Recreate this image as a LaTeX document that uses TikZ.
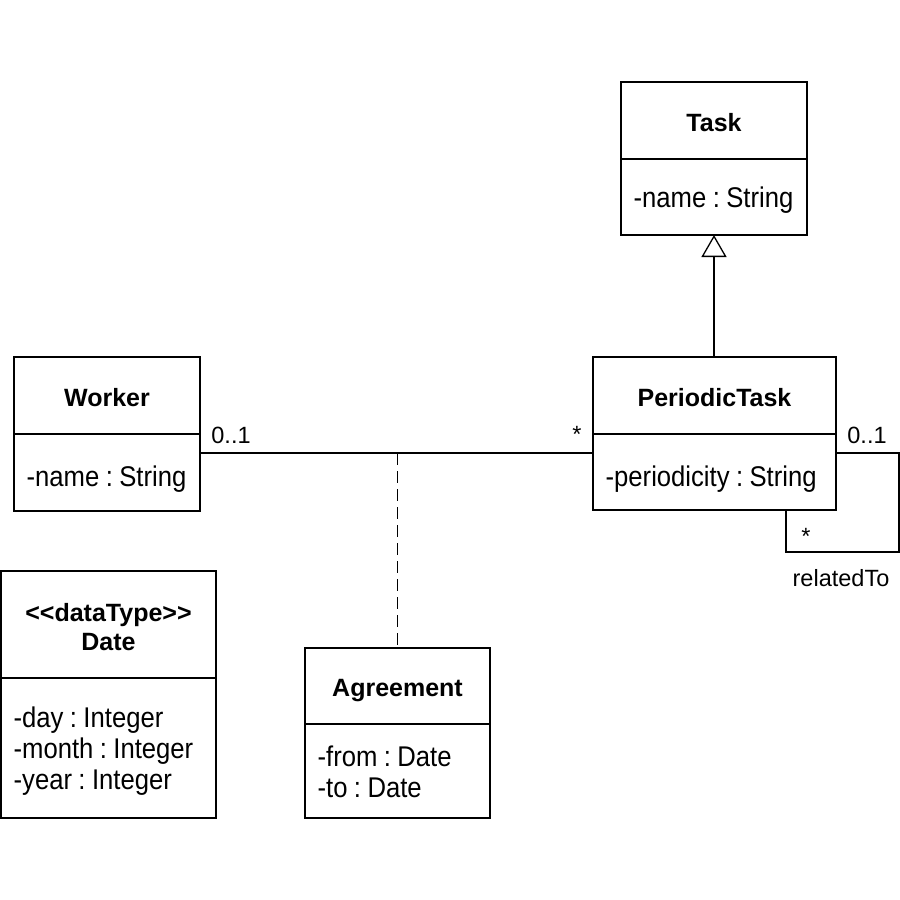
\documentclass[tikz,border=0pt]{standalone}
\usepackage{fontspec}
\setmainfont{Liberation Sans}
\newfontfamily\attrfont{Liberation Sans}[FakeStretch=0.9,WordSpace=0.9]
\usetikzlibrary{arrows.meta}
\begin{document}
\frenchspacing
\begin{tikzpicture}[x=1pt,y=-1pt,line width=1.3pt,
  box/.style={draw,outer sep=0pt,inner sep=0pt},
  titletext/.style={inner sep=0pt,anchor=base,align=center,font=\fontsize{25}{29}\selectfont\bfseries},
  attrtext/.style={inner sep=0pt,anchor=base west,align=left,font=\attrfont\fontsize{28.5}{31}\selectfont},
  lbl/.style={inner sep=0pt,anchor=base,font=\fontsize{23.5}{28}\selectfont}]
\useasboundingbox (0,0) rectangle (900,900);
% Task
\node[box,minimum width=186pt,minimum height=77pt] (tt) at (714,120.5) {};
\node[box,minimum width=186pt,minimum height=76pt] (ta) at (714,197) {};
\node[titletext] (ttx) at (714,131) {Task};
\node[attrtext] (tax) at (633,207) {-name : String};
% PeriodicTask
\node[box,minimum width=243pt,minimum height=77pt] (pt) at (714.5,395.5) {};
\node[box,minimum width=243pt,minimum height=76pt] (pa) at (714.5,472) {};
\node[titletext] (ptx) at (714.5,406) {PeriodicTask};
\node[attrtext] (pax) at (605,486.5) {-periodicity : String};
% Worker
\node[box,minimum width=186pt,minimum height=77pt] (wt) at (107,395.5) {};
\node[box,minimum width=186pt,minimum height=77pt] (wa) at (107,472.5) {};
\node[titletext] (wtx) at (107,406.5) {Worker};
\node[attrtext] (wax) at (26,486) {-name : String};
% Date
\node[box,minimum width=215pt,minimum height=107pt] (dt) at (108.5,624.5) {};
\node[box,minimum width=215pt,minimum height=140pt] (da) at (108.5,748) {};
\node[titletext] (dtx1) at (108.5,621) {<{}<dataType>{}>};
\node[titletext] (dtx2) at (108.5,650) {Date};
\node[attrtext] (dax) at (13,789.5) {-day : Integer\\-month : Integer\\-year : Integer};
% Agreement
\node[box,minimum width=185pt,minimum height=76pt] (at) at (397.5,686) {};
\node[box,minimum width=185pt,minimum height=94pt] (aa) at (397.5,771) {};
\node[titletext] (atx) at (397.5,696) {Agreement};
\node[attrtext] (aax) at (317,797.5) {-from : Date\\-to : Date};
% connectors
\coordinate (mid) at (397.5,453);
\coordinate (lp) at (899,552);
\coordinate (lq) at (786,510);
\draw[-{Triangle[open,length=22pt,width=25pt,line width=1.3pt]}] (ta.south |- pt.north) -- (ta.south);
\draw (wa.east |- mid) -- (pa.west |- mid);
\draw[dash pattern=on 12pt off 6pt] (mid) -- (at.north);
\draw (pa.east |- mid) -| (lp) -| (lq);
% labels
\node[lbl] (l1) at (231,443) {0..1};
\node[lbl] (l2) at (577,442) {*};
\node[lbl] (l3) at (867,443) {0..1};
\node[lbl] (l4) at (806,544) {*};
\node[lbl] (l5) at (841,586) {relatedTo};
\end{tikzpicture}
\end{document}
